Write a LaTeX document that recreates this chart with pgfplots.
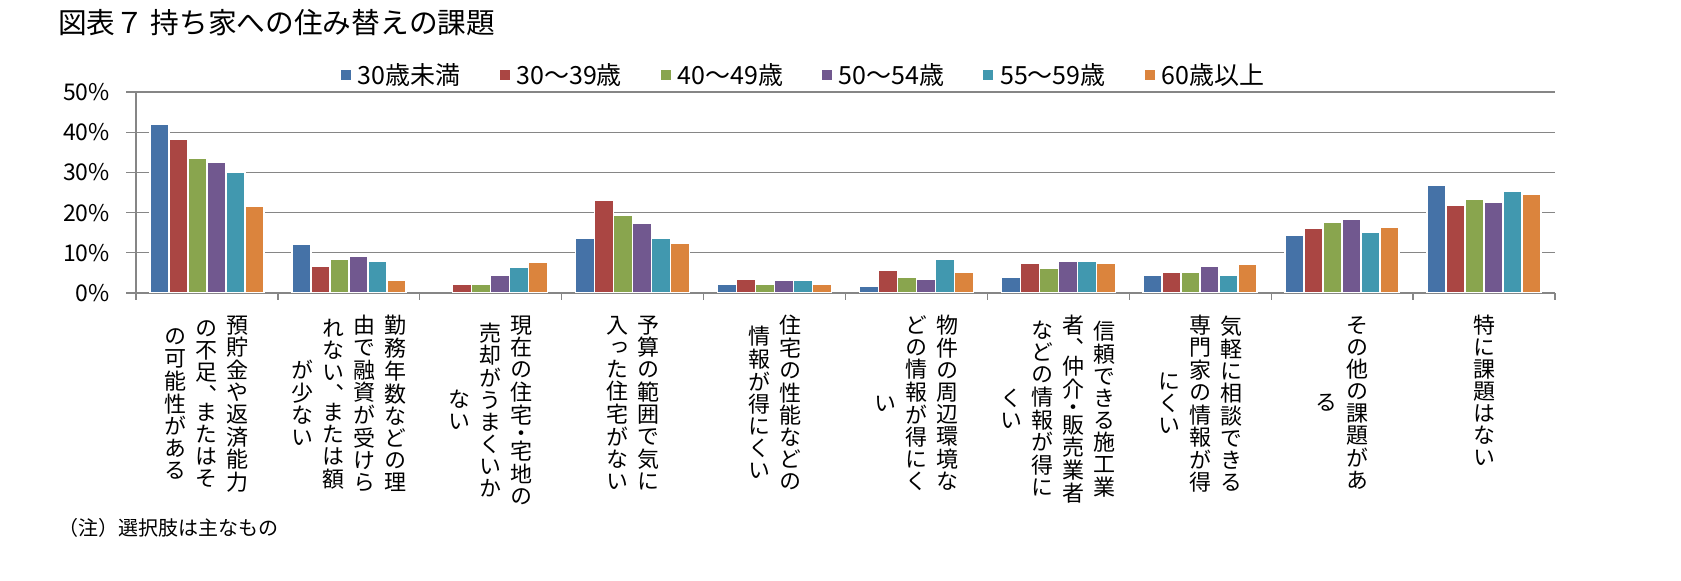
\documentclass[border=0pt]{standalone}
\usepackage{fontspec}
\setmainfont{Noto Sans CJK JP}
\newfontfamily\jpv[RawFeature=+vert]{Noto Sans CJK JP}
\usepackage{pgfplots}
\pgfplotsset{compat=1.18}

\definecolor{c1}{HTML}{4572A7}
\definecolor{c2}{HTML}{AA4643}
\definecolor{c3}{HTML}{89A54E}
\definecolor{c4}{HTML}{71588F}
\definecolor{c5}{HTML}{4198AF}
\definecolor{c6}{HTML}{DB843D}
\definecolor{gridgray}{HTML}{868686}

% one character cell of a vertical column
\newcommand\vchn[1]{\hbox to 24bp{\hss\vrule height 17.8bp depth 4.2bp width 0pt\relax#1\hss}}
\newcommand\vchs[2]{\hbox to 24bp{\hss\vrule height 11bp depth 0pt width 0pt\relax\lower#2\hbox{\smash{#1}}\hss}}

\ExplSyntaxOn
\cs_new_protected:Npn \vch #1
  { \str_case:nnF {#1} { {、}{\vchs{#1}{7.3bp}} {・}{\vchs{#1}{2.8bp}} } {\vchn{#1}} }
\NewDocumentCommand\vcol{m}{\vbox{\offinterlineskip \tl_map_function:nN {#1} \vch}}
\tl_new:N \l_vl_tl
\seq_new:N \l_vl_seq
% columns separated by |, first column on the right
\NewDocumentCommand\vlab{m}{
  \group_begin:
  \jpv \fontsize{22bp}{22bp}\selectfont
  \seq_set_split:Nnn \l_vl_seq {|} {#1}
  \seq_reverse:N \l_vl_seq
  \tl_clear:N \l_vl_tl
  \seq_map_inline:Nn \l_vl_seq {
    \tl_if_empty:NF \l_vl_tl { \tl_put_right:Nn \l_vl_tl {\kern7bp} }
    \tl_put_right:Nn \l_vl_tl { \vcenter{\vcol{##1}} }
  }
  \hbox{$\l_vl_tl$}
  \group_end:
}
\ExplSyntaxOff

\begin{document}
\begin{tikzpicture}
\path[use as bounding box] (0,0) rectangle (1681bp,581bp);
\node[anchor=west, inner sep=0pt, font=\fontsize{28.7bp}{30bp}\selectfont] at (58bp,558bp) {図表７ 持ち家への住み替えの課題};
\node[anchor=west, inner sep=0pt, font=\fontsize{20bp}{22bp}\selectfont] at (58bp,53bp) {（注）選択肢は主なもの};

\begin{axis}[
  at={(136bp,288bp)}, anchor=south west,
  scale only axis, width=1419bp, height=201bp,
  ybar=0pt, bar width=19bp,
  xmin=-0.5, xmax=9.5, ymin=0, ymax=50,
  axis x line=bottom, axis y line=left,
  axis line style={-, draw=gridgray, line width=1.3bp},
  ymajorgrids, grid style={draw=gridgray, line width=1.3bp},
  tick align=outside, major tick length=10bp, minor tick length=7bp,
  tick style={draw=gridgray, line width=1.3bp},
  major x tick style={draw=none},
  xtick={0,...,9}, minor xtick={-0.5,0.5,...,9.5},
  xticklabels={
    {\vlab{預貯金や返済能力|の不足、またはそ|の可能性がある}},
    {\vlab{勤務年数などの理|由で融資が受けら|れない、または額|が少ない}},
    {\vlab{現在の住宅・宅地の|売却がうまくいか|ない}},
    {\vlab{予算の範囲で気に|入った住宅がない}},
    {\vlab{住宅の性能などの|情報が得にくい}},
    {\vlab{物件の周辺環境な|どの情報が得にく|い}},
    {\vlab{信頼できる施工業|者、仲介・販売業者|などの情報が得に|くい}},
    {\vlab{気軽に相談できる|専門家の情報が得|にくい}},
    {\vlab{その他の課題があ|る}},
    {\vlab{特に課題はない}}},
  xticklabel style={anchor=north, inner sep=0pt, yshift=-12bp},
  ytick={0,10,...,50},
  yticklabels={0\%,10\%,20\%,30\%,40\%,50\%},
  yticklabel style={font=\fontsize{23bp}{23bp}\selectfont, inner sep=0pt, xshift=-16bp},
  legend image code/.code={\fill[#1, draw=none] (0bp,-5bp) rectangle (10bp,5bp); \path (14bp,0bp);},
  legend style={draw=none, fill=none, at={(axis description cs:0.1445,1.085)}, anchor=west,
    legend columns=6, font=\fontsize{25bp}{27bp}\selectfont, inner sep=0pt,
    nodes={inner sep=2bp},
    /tikz/every even column/.append style={column sep=37bp}},
  legend cell align=left,
]
\addplot[fill=c1, draw=white, line width=1.5bp] coordinates {(0,42.1) (1,12.1) (3,13.6) (4,2.3) (5,1.8) (6,3.8) (7,4.3) (8,14.3) (9,26.8)};
\addplot[fill=c2, draw=white, line width=1.5bp] coordinates {(0,38.3) (1,6.6) (2,2.3) (3,23.1) (4,3.3) (5,5.6) (6,7.3) (7,5.1) (8,16.1) (9,21.8)};
\addplot[fill=c3, draw=white, line width=1.5bp] coordinates {(0,33.6) (1,8.3) (2,2.3) (3,19.3) (4,2.1) (5,3.8) (6,6.1) (7,5.1) (8,17.6) (9,23.3)};
\addplot[fill=c4, draw=white, line width=1.5bp] coordinates {(0,32.6) (1,9.1) (2,4.3) (3,17.3) (4,3.1) (5,3.3) (6,7.8) (7,6.6) (8,18.3) (9,22.6)};
\addplot[fill=c5, draw=white, line width=1.5bp] coordinates {(0,30.1) (1,7.8) (2,6.3) (3,13.6) (4,3.1) (5,8.3) (6,7.8) (7,4.3) (8,15.1) (9,25.3)};
\addplot[fill=c6, draw=white, line width=1.5bp] coordinates {(0,21.6) (1,3.1) (2,7.6) (3,12.3) (4,2.1) (5,5.1) (6,7.3) (7,7.1) (8,16.3) (9,24.6)};
\legend{30歳未満,30〜39歳,40〜49歳,50〜54歳,55〜59歳,60歳以上}
\end{axis}
\end{tikzpicture}
\end{document}
